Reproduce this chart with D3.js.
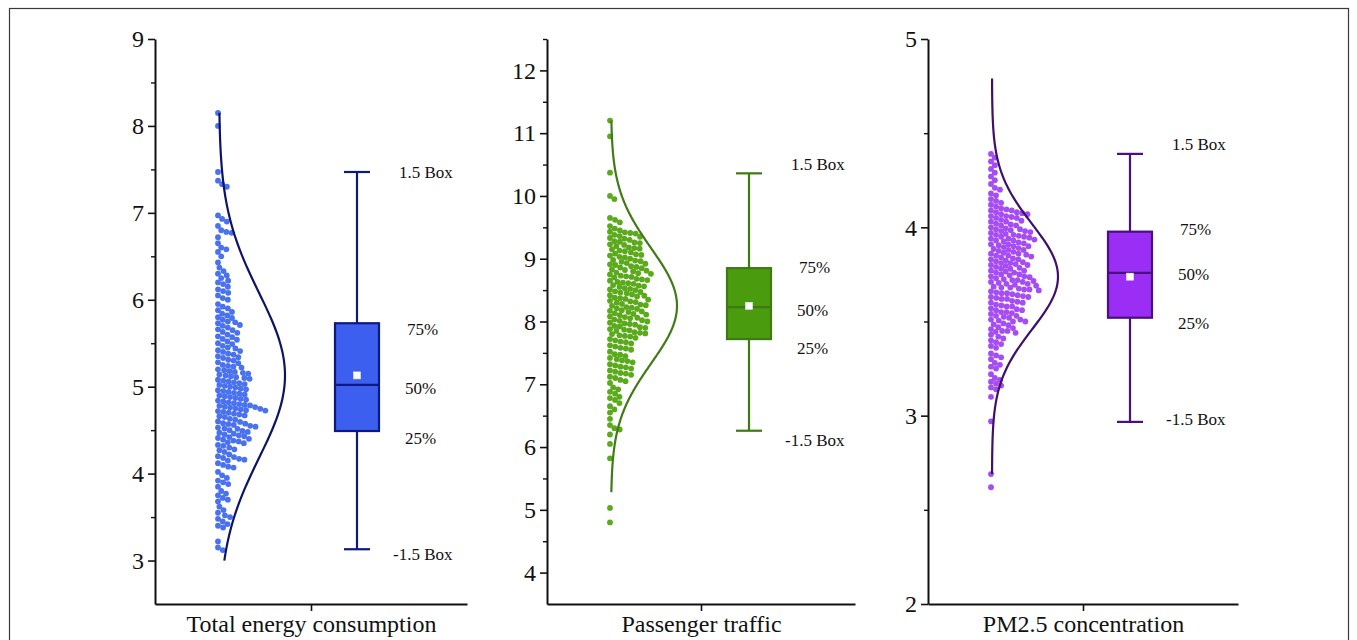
<!DOCTYPE html>
<html><head><meta charset="utf-8">
<script src="https://cdn.jsdelivr.net/npm/d3@7"></script>
<style>
html,body{margin:0;padding:0;background:#fff;}
svg{display:block;}
text{font-family:"Liberation Serif","Times New Roman",serif;fill:#111;}
</style></head>
<body>
<svg id="chart" width="1357" height="640"></svg>
<script>
// ---------------- DATA ----------------
const categories = ["Total energy consumption", "Passenger traffic", "PM2.5 concentration"];

const energyValues = [8.15, 8.00, 7.47, 7.37, 7.33, 7.30,
 6.97, 6.93, 6.90, 6.85, 6.80, 6.78, 6.77, 6.72, 6.65,
 6.60, 6.58, 6.55, 6.50, 6.43, 6.37, 6.33, 6.30, 6.28, 6.25, 6.22, 6.20, 6.18, 6.15, 6.12, 6.10, 6.08, 6.05, 6.02, 6.00, 5.95, 5.92, 5.90, 5.88,
 5.86, 5.84, 5.82, 5.80, 5.79, 5.77, 5.75,
 5.74, 5.73, 5.71, 5.70, 5.68, 5.66, 5.65, 5.63, 5.62, 5.60, 5.58,
 5.57, 5.55, 5.54, 5.52, 5.50, 5.49, 5.47, 5.45, 5.44, 5.42, 5.41, 5.40, 5.38,
 5.37, 5.35, 5.34, 5.33, 5.31, 5.30, 5.28, 5.27, 5.25, 5.24, 5.23, 5.22, 5.20,
 5.19, 5.18, 5.17, 5.16, 5.15, 5.14, 5.13, 5.12, 5.11, 5.10, 5.09, 5.08, 5.07, 5.06, 5.05, 5.04, 5.03, 5.02, 5.01, 5.00,
 4.99, 4.98, 4.97, 4.96, 4.95, 4.94, 4.93, 4.92, 4.91, 4.90, 4.89, 4.88, 4.87, 4.86, 4.85, 4.84, 4.83, 4.82, 4.81, 4.80,
 4.79, 4.785, 4.78, 4.77, 4.765, 4.76, 4.75, 4.745, 4.74, 4.73, 4.725, 4.72, 4.71, 4.70, 4.69, 4.68, 4.67, 4.66, 4.65,
 4.63, 4.62, 4.60, 4.595, 4.58, 4.575, 4.57, 4.56, 4.55, 4.54, 4.53, 4.52, 4.515, 4.50, 4.49, 4.48, 4.47, 4.46, 4.45, 4.44, 4.43, 4.42, 4.41, 4.40,
 4.39, 4.38, 4.37, 4.36, 4.35, 4.33, 4.32, 4.30, 4.28, 4.27, 4.25,
 4.22, 4.20, 4.19, 4.18, 4.17, 4.16, 4.15, 4.12, 4.10, 4.08, 4.07,
 4.02, 3.98, 3.95, 3.92, 3.90, 3.88, 3.85,
 3.80, 3.77, 3.75, 3.72, 3.70, 3.68,
 3.62, 3.58, 3.55, 3.52, 3.50, 3.48, 3.45, 3.42, 3.40, 3.38,
 3.22, 3.15, 3.12];

const passengerValues = [11.20, 10.95, 10.37, 10.00, 9.95, 9.65, 9.62, 9.58, 9.52,
 9.48, 9.45, 9.43, 9.42, 9.41, 9.40, 9.38, 9.36, 9.35, 9.33, 9.32, 9.30, 9.28, 9.27, 9.26, 9.25, 9.23, 9.22, 9.20, 9.18, 9.17, 9.16, 9.15, 9.13, 9.12, 9.10, 9.08, 9.07, 9.06, 9.05, 9.03, 9.02, 9.00,
 8.98, 8.97, 8.96, 8.95, 8.93, 8.92, 8.91, 8.90, 8.88, 8.87, 8.86, 8.85, 8.83, 8.82, 8.81, 8.80, 8.78, 8.77, 8.76, 8.75, 8.73, 8.72, 8.71, 8.70, 8.68, 8.67, 8.66, 8.65, 8.63, 8.62, 8.61, 8.60, 8.58, 8.57, 8.56, 8.55, 8.53, 8.52, 8.51, 8.50,
 8.48, 8.47, 8.46, 8.45, 8.43, 8.42, 8.41, 8.40, 8.38, 8.37, 8.36, 8.35, 8.33, 8.32, 8.31, 8.30, 8.28, 8.27, 8.26, 8.25, 8.23, 8.22, 8.21, 8.20, 8.18, 8.17, 8.16, 8.15, 8.13, 8.12, 8.11, 8.10, 8.08, 8.07, 8.06, 8.05, 8.03, 8.02, 8.01, 8.00,
 7.98, 7.97, 7.96, 7.95, 7.93, 7.92, 7.91, 7.90, 7.88, 7.87, 7.86, 7.85, 7.83, 7.82, 7.81, 7.80, 7.78, 7.77, 7.76, 7.74, 7.72, 7.70, 7.68, 7.67, 7.65, 7.62, 7.60, 7.58, 7.57, 7.55, 7.52,
 7.48, 7.47, 7.45, 7.42, 7.40, 7.38, 7.37, 7.35, 7.32, 7.30, 7.28, 7.27, 7.25, 7.22, 7.20, 7.18, 7.17, 7.15, 7.12, 7.10, 7.07, 7.05, 7.02,
 6.95, 6.92, 6.88, 6.85, 6.80, 6.78, 6.75, 6.70, 6.65, 6.60, 6.55,
 6.45, 6.35, 6.30, 6.28, 6.20, 6.05,
 5.82, 5.03, 4.80];

const pm25Values = [4.39, 4.37, 4.35, 4.33, 4.31, 4.29, 4.27, 4.25, 4.23, 4.21, 4.20, 4.18, 4.17, 4.15, 4.14, 4.13, 4.12, 4.11, 4.10, 4.095, 4.09,
 4.09, 4.08, 4.08, 4.075, 4.07, 4.07, 4.06, 4.06, 4.055, 4.05, 4.05, 4.04, 4.035, 4.03, 4.03, 4.02, 4.015, 4.01, 4.01, 4.00, 3.995, 3.99, 3.99, 3.985, 3.98, 3.98,
 3.975, 3.97, 3.965, 3.96, 3.96, 3.955, 3.95, 3.95, 3.945, 3.94, 3.94, 3.935, 3.93, 3.93, 3.925, 3.92, 3.915, 3.91, 3.91, 3.905, 3.90, 3.90, 3.895, 3.89, 3.885, 3.88, 3.88, 3.875, 3.87, 3.865, 3.86, 3.86,
 3.855, 3.85, 3.85, 3.845, 3.84, 3.835, 3.83, 3.83, 3.825, 3.82, 3.815, 3.81, 3.81, 3.805, 3.80, 3.80, 3.795, 3.79, 3.785, 3.78, 3.78, 3.77, 3.77, 3.765, 3.76, 3.76, 3.75, 3.75, 3.745, 3.74,
 3.74, 3.735, 3.73, 3.725, 3.72, 3.72, 3.715, 3.71, 3.71, 3.705, 3.70, 3.70, 3.695, 3.69, 3.685, 3.68, 3.68, 3.675, 3.67, 3.67, 3.665, 3.66, 3.655, 3.65, 3.65, 3.645, 3.64, 3.635, 3.63, 3.63, 3.625, 3.62,
 3.62, 3.61, 3.605, 3.60, 3.60, 3.59, 3.585, 3.58, 3.58, 3.57, 3.565, 3.56, 3.56, 3.55, 3.55, 3.545, 3.54, 3.53, 3.53, 3.525, 3.52, 3.51, 3.51, 3.505, 3.50, 3.50,
 3.49, 3.485, 3.48, 3.47, 3.465, 3.46, 3.45, 3.45, 3.445, 3.44, 3.43, 3.42, 3.41, 3.40, 3.39, 3.38, 3.37, 3.36,
 3.33, 3.32, 3.31, 3.30, 3.28, 3.27, 3.26, 3.25, 3.22, 3.20, 3.19, 3.18, 3.17, 3.16, 3.15, 3.14, 3.10,
 2.97, 2.69, 2.62];

// box statistics
const whiskerLow  = [3.13, 6.26, 2.967];
const quartile1   = [4.49, 7.72, 3.52];
const medians     = [5.02, 8.23, 3.758];
const quartile3   = [5.73, 8.85, 3.977];
const whiskerHigh = [7.47, 10.36, 4.39];
const means       = [5.13, 8.25, 3.738];

// normal distribution curves
const curveSD    = [0.95, 0.92, 0.28];
const curveLow   = [3.00, 5.28, 2.69];
const curveHigh  = [8.15, 11.20, 4.79];

// axes
const yDomainLow  = [2.5, 3.5, 2];
const yDomainHigh = [9, 12.5, 5];
const majorTicks = [[3,4,5,6,7,8,9],[4,5,6,7,8,9,10,11,12],[2,3,4,5]];
const minorTicks = [[3.5,4.5,5.5,6.5,7.5,8.5],[4.5,5.5,6.5,7.5,8.5,9.5,10.5,11.5,12.5],[2.5,3.5,4.5]];

// annotation labels and the value level they sit at
const labelTexts = ["1.5 Box", "75%", "50%", "25%", "-1.5 Box"];
const labelLevels = [[7.47, 5.66, 4.98, 4.41, 3.08],[10.51, 8.87, 8.18, 7.57, 6.11],[4.44, 3.99, 3.75, 3.49, 2.98]];

// ---------------- STYLE / LAYOUT ----------------
const seriesValues = [energyValues, passengerValues, pm25Values];
const pointColors = ["#4a72ee", "#5aaa1c", "#a54cf2"];
const boxFills = ["#3d5ff0", "#4a9c0e", "#9a2ef5"];
const lineColors = ["#0c1a80", "#3e7a14", "#4a1080"];
const curveColors = ["#0c1466", "#427a18", "#3f0f6a"];

const panelLeft = [155, 547, 928];
const panelRight = [467, 855, 1238];
const plotTop = 39, plotBottom = 604;

const svg = d3.select("#chart");

// outer frame
svg.append("rect").attr("x", 9.5).attr("y", 8.5).attr("width", 1339).attr("height", 700)
  .attr("fill", "none").attr("stroke", "#3a3a3a").attr("stroke-width", 1.2);

function dodge(ys, spacing) {
  const idx = d3.range(ys.length).sort((a, b) => ys[a] - ys[b]);
  const xs = new Array(ys.length);
  const placed = [];
  for (const i of idx) {
    const yv = ys[i];
    const iv = [];
    for (const p of placed) {
      const dy = Math.abs(p.y - yv);
      if (dy < spacing) {
        const dx = Math.sqrt(spacing * spacing - dy * dy);
        iv.push([p.x - dx, p.x + dx]);
      }
    }
    const cands = [0, ...iv.map(v => v[1])].filter(c => c >= 0).sort((a, b) => a - b);
    const xv = cands.find(c => iv.every(([a, b]) => c <= a + 1e-6 || c >= b - 1e-6));
    xs[i] = xv;
    placed.push({x: xv, y: yv});
  }
  return xs;
}

categories.forEach((cat, k) => {
  const g = svg.append("g");
  const x = d3.scaleLinear().domain([0, 1]).range([panelLeft[k], panelRight[k]]);
  const y = d3.scaleLinear().domain([yDomainLow[k], yDomainHigh[k]]).range([plotBottom, plotTop]);
  const width = panelRight[k] - panelLeft[k];

  const baseX = x(64 / width);          // start of the scatter / curve baseline
  const boxC = x(202 / width);          // box center
  const boxW = 44, capW = 26, amp = 66;

  // scatter points (dodged to the right of the baseline)
  const vals = seriesValues[k];
  const ys = vals.map(v => y(v));
  const xs = dodge(ys, 5.4);
  g.append("g").selectAll("circle").data(vals).join("circle")
    .attr("cx", (d, i) => baseX - 1 + xs[i])
    .attr("cy", d => y(d))
    .attr("r", 2.9)
    .attr("fill", pointColors[k]);

  // normal curve
  const mu = means[k], sd = curveSD[k];
  const pts = d3.range(0, 201).map(i => curveLow[k] + (curveHigh[k] - curveLow[k]) * i / 200);
  const line = d3.line()
    .x(v => baseX + amp * Math.exp(-((v - mu) ** 2) / (2 * sd * sd)))
    .y(v => y(v))
    .curve(d3.curveBasis);
  g.append("path").attr("d", line(pts)).attr("fill", "none")
    .attr("stroke", curveColors[k]).attr("stroke-width", 2.2);

  // box plot
  const sc = lineColors[k];
  g.append("line").attr("x1", boxC).attr("x2", boxC)
    .attr("y1", y(whiskerHigh[k])).attr("y2", y(quartile3[k]))
    .attr("stroke", sc).attr("stroke-width", 2.2);
  g.append("line").attr("x1", boxC).attr("x2", boxC)
    .attr("y1", y(quartile1[k])).attr("y2", y(whiskerLow[k]))
    .attr("stroke", sc).attr("stroke-width", 2.2);
  [whiskerHigh[k], whiskerLow[k]].forEach(v => {
    g.append("line").attr("x1", boxC - capW / 2).attr("x2", boxC + capW / 2)
      .attr("y1", y(v)).attr("y2", y(v)).attr("stroke", sc).attr("stroke-width", 2.2);
  });
  g.append("rect").attr("x", boxC - boxW / 2).attr("y", y(quartile3[k]))
    .attr("width", boxW).attr("height", y(quartile1[k]) - y(quartile3[k]))
    .attr("fill", boxFills[k]).attr("stroke", sc).attr("stroke-width", 2.2);
  g.append("line").attr("x1", boxC - boxW / 2).attr("x2", boxC + boxW / 2)
    .attr("y1", y(medians[k])).attr("y2", y(medians[k]))
    .attr("stroke", sc).attr("stroke-width", 2.2);
  g.append("rect").attr("x", boxC - 3.5).attr("y", y(means[k]) - 3.5)
    .attr("width", 7).attr("height", 7).attr("fill", "#fff")
    .attr("stroke", "#e8e8ff").attr("stroke-width", 0.6);

  // annotation labels
  const labelDx = [42, 50, 48, 48, 36];
  labelTexts.forEach((t, j) => {
    g.append("text").attr("x", boxC + labelDx[j]).attr("y", y(labelLevels[k][j]))
      .attr("dy", "0.35em").attr("font-size", 17).text(t);
  });

  // y axis
  const yAxis = d3.axisLeft(y).tickValues(majorTicks[k]).tickSize(7).tickSizeOuter(0)
    .tickPadding(4).tickFormat(d3.format("d"));
  const ya = g.append("g").attr("transform", `translate(${panelLeft[k]},0)`).call(yAxis);
  ya.select(".domain").attr("stroke", "#111").attr("stroke-width", 2);
  ya.selectAll(".tick line").attr("stroke", "#111").attr("stroke-width", 1.6);
  ya.selectAll(".tick text").attr("font-size", 24).attr("font-family", "Liberation Serif, serif").attr("fill", "#111");
  const yMinor = d3.axisLeft(y).tickValues(minorTicks[k]).tickSize(4).tickSizeOuter(0).tickFormat("");
  const ym = g.append("g").attr("transform", `translate(${panelLeft[k]},0)`).call(yMinor);
  ym.select(".domain").remove();
  ym.selectAll(".tick line").attr("stroke", "#111").attr("stroke-width", 1.4);

  // x axis
  const xb = d3.scalePoint().domain([cat]).range([panelLeft[k], panelRight[k]]).padding(0.5);
  const xAxis = d3.axisBottom(xb).tickSize(7).tickSizeOuter(0).tickPadding(6);
  const xa = g.append("g").attr("transform", `translate(0,${plotBottom})`).call(xAxis);
  xa.select(".domain").attr("stroke", "#111").attr("stroke-width", 2);
  xa.selectAll(".tick line").attr("stroke", "#111").attr("stroke-width", 1.6);
  xa.selectAll(".tick text").attr("font-size", 24).attr("font-family", "Liberation Serif, serif")
    .attr("fill", "#111").attr("dy", "0.62em");
});
</script>
</body></html>
